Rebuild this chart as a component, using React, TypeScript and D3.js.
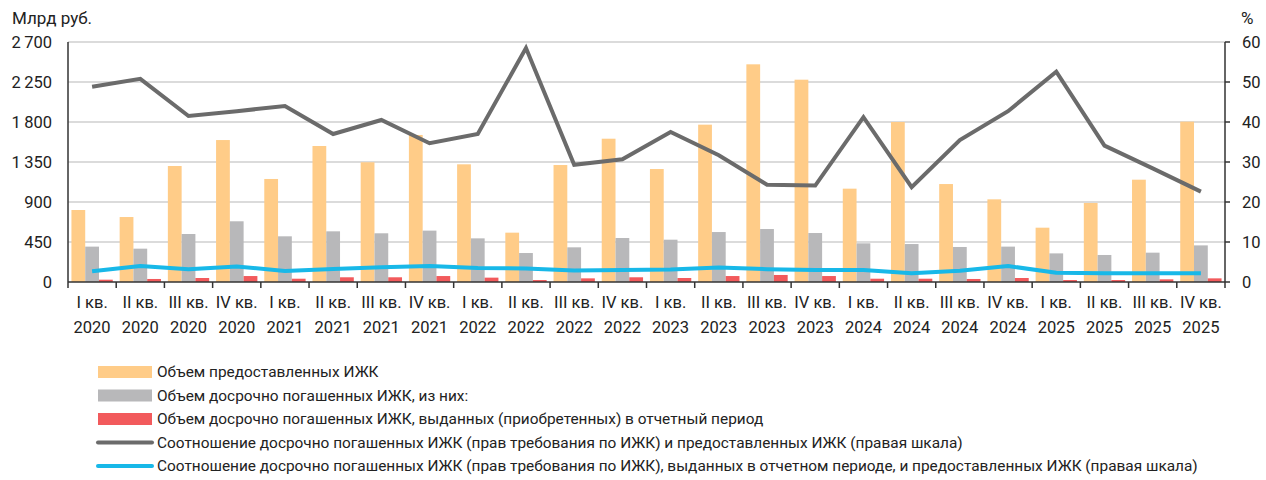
import React from "react";
import * as d3 from "d3";

const quarters = ["I кв.", "II кв.", "III кв.", "IV кв."];
const years = ["2020", "2021", "2022", "2023", "2024", "2025"];
const categories: string[][] = years.flatMap((y) => quarters.map((q) => [q, y]));

const issued = [810, 731, 1305, 1597, 1159, 1530, 1347, 1654, 1324, 555, 1316, 1612, 1271, 1770, 2449, 2276, 1050, 1800, 1102, 930, 611, 889, 1151, 1804];
const repaid = [398, 375, 540, 683, 514, 570, 548, 578, 491, 326, 390, 495, 476, 562, 596, 551, 435, 427, 394, 398, 322, 304, 330, 412];
const repaidSame = [26, 34, 45, 67, 37, 53, 53, 67, 49, 22, 41, 53, 45, 67, 79, 67, 37, 37, 34, 45, 22, 22, 30, 41];
const ratioAll = [48.8, 50.8, 41.5, 42.7, 44.0, 37.0, 40.5, 34.7, 37.0, 58.5, 29.3, 30.7, 37.5, 31.7, 24.3, 24.1, 41.2, 23.7, 35.5, 42.7, 52.6, 34.1, 28.4, 22.6];
const ratioSame = [2.7, 4.0, 3.2, 3.9, 2.75, 3.25, 3.7, 4.0, 3.5, 3.4, 2.9, 3.0, 3.1, 3.6, 3.2, 3.0, 3.0, 2.2, 2.8, 4.0, 2.3, 2.2, 2.2, 2.2];

const leftTicks = [0, 450, 900, 1350, 1800, 2250, 2700];
const rightTicks = [0, 10, 20, 30, 40, 50, 60];

const legendItems = [
  { label: "Объем предоставленных ИЖК", type: "bar", color: "#FFCC88" },
  { label: "Объем досрочно погашенных ИЖК, из них:", type: "bar", color: "#B8B8BA" },
  { label: "Объем досрочно погашенных ИЖК, выданных (приобретенных) в отчетный период", type: "bar", color: "#F25A5C" },
  { label: "Соотношение досрочно погашенных ИЖК (прав требования по ИЖК) и предоставленных ИЖК (правая шкала)", type: "line", color: "#6B6B6B" },
  { label: "Соотношение досрочно погашенных ИЖК (прав требования по ИЖК), выданных в отчетном периоде, и предоставленных ИЖК (правая шкала)", type: "line", color: "#18B8E8" },
];

const W = 1266;
const H = 480;
const x0 = 68;
const x1 = 1225;
const yTop = 42;
const yBot = 282;
const FONT = "Roboto, 'DejaVu Sans', sans-serif";
const TXT = "#222";

export default function App() {
  const idx = categories.map((_, i) => String(i));
  const x = d3.scaleBand<string>().domain(idx).range([x0, x1]).paddingInner(0).paddingOuter(0);
  const inner = d3.scaleBand<string>().domain(["a", "b", "c"]).range([0, x.bandwidth()]).paddingInner(0).paddingOuter(0.25);
  const yL = d3.scaleLinear().domain([0, 2700]).range([yBot, yTop]);
  const yR = d3.scaleLinear().domain([0, 60]).range([yBot, yTop]);
  const cx = (i: number) => (x(String(i)) as number) + x.bandwidth() / 2;

  const line = d3.line<number>().x((_, i) => cx(i)).y((d) => yR(d));

  const bars = [
    { key: "a", data: issued, color: legendItems[0].color },
    { key: "b", data: repaid, color: legendItems[1].color },
    { key: "c", data: repaidSame, color: legendItems[2].color },
  ];

  return (
    <svg width={W} height={H} style={{ position: "absolute", left: 0, top: 0, background: "#fff" }} fontFamily={FONT}>
      {leftTicks.filter((t) => t > 0).map((t) => (
        <line key={t} x1={x0} x2={x1} y1={yL(t)} y2={yL(t)} stroke="#CFCFCF" strokeWidth={1.5} />
      ))}
      {bars.map((b) =>
        b.data.map((v, i) => (
          <rect
            key={b.key + i}
            x={(x(String(i)) as number) + (inner(b.key) as number)}
            y={yL(v)}
            width={inner.bandwidth()}
            height={yBot - yL(v)}
            fill={b.color}
          />
        ))
      )}
      <path d={line(ratioAll) || ""} fill="none" stroke={legendItems[3].color} strokeWidth={4} strokeLinejoin="miter" />
      <path d={line(ratioSame) || ""} fill="none" stroke={legendItems[4].color} strokeWidth={4} strokeLinejoin="round" />
      <line x1={x0} x2={x0} y1={yTop} y2={yBot} stroke="#333" strokeWidth={1.5} />
      <line x1={x1} x2={x1} y1={yTop} y2={yBot} stroke="#333" strokeWidth={1.5} />
      <line x1={x0} x2={x1} y1={yBot} y2={yBot} stroke="#333" strokeWidth={1.5} />
      {idx.map((d) => (
        <line key={"t" + d} x1={x(d) as number} x2={x(d) as number} y1={yBot} y2={yBot + 6} stroke="#333" strokeWidth={1.5} />
      ))}
      <line x1={x1} x2={x1} y1={yBot} y2={yBot + 6} stroke="#333" strokeWidth={1.5} />
      {leftTicks.map((t) => (
        <text key={"l" + t} x={52} y={yL(t)} dy="0.35em" textAnchor="end" fontSize={16.5} fill={TXT}>
          {d3.format(",")(t).replace(",", "\u2009")}
        </text>
      ))}
      {rightTicks.map((t) => (
        <g key={"r" + t}>
          <line x1={x1} x2={x1 + 5} y1={yR(t)} y2={yR(t)} stroke="#333" strokeWidth={1.5} />
          <text x={1242} y={yR(t)} dy="0.35em" textAnchor="start" fontSize={16.5} fill={TXT}>
            {t}
          </text>
        </g>
      ))}
      <text x={12} y={24} fontSize={17} fill={TXT}>Млрд руб.</text>
      <text x={1241} y={24} fontSize={17} fill={TXT}>%</text>
      {categories.map((c, i) => (
        <text key={"c" + i} x={cx(i)} textAnchor="middle" fontSize={16.5} fill={TXT}>
          <tspan x={cx(i)} y={308}>{c[0]}</tspan>
          <tspan x={cx(i)} y={333}>{c[1]}</tspan>
        </text>
      ))}
      {legendItems.map((it, i) => {
        const y = 372 + i * 23.5;
        return (
          <g key={"lg" + i}>
            {it.type === "bar" ? (
              <rect x={98} y={y - 6} width={54} height={12} fill={it.color} />
            ) : (
              <line x1={98} x2={152} y1={y} y2={y} stroke={it.color} strokeWidth={4} strokeLinecap="round" />
            )}
            <text x={157} y={y} dy="0.35em" fontSize={15.4} fill={TXT}>{it.label}</text>
          </g>
        );
      })}
    </svg>
  );
}
